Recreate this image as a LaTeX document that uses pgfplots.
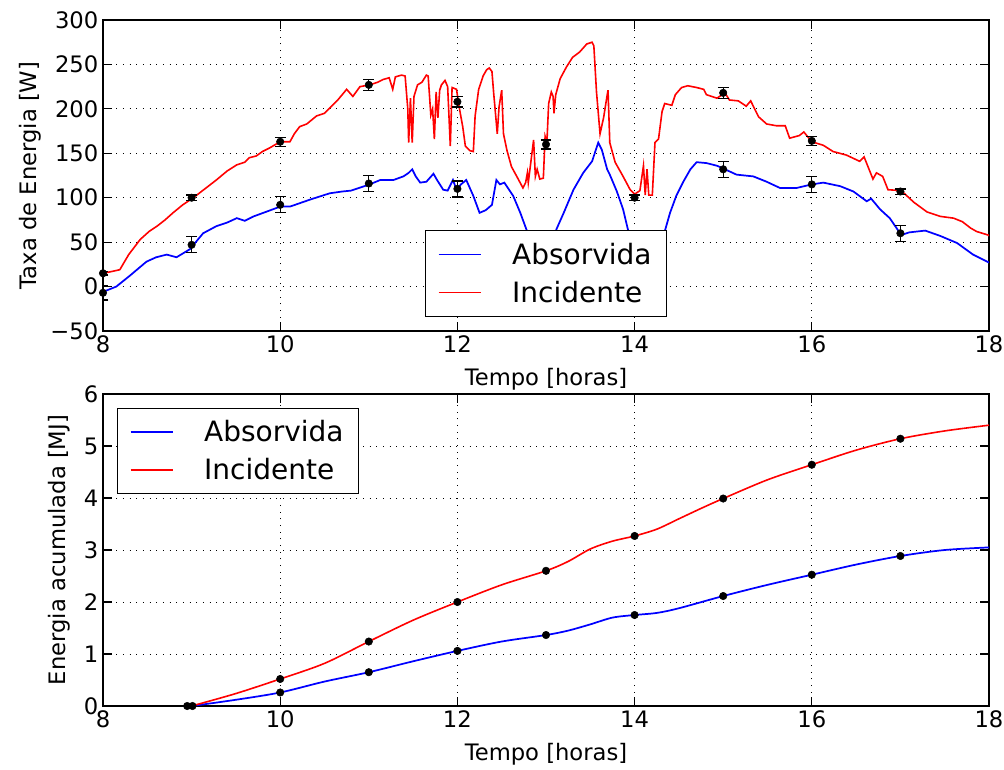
\documentclass[border=0pt]{standalone}
\usepackage{fontspec}
\setmainfont{DejaVu Sans}
\usepackage{pgfplots}
\pgfplotsset{compat=1.18}

\definecolor{mblue}{RGB}{0,0,255}
\definecolor{mred}{RGB}{255,0,0}

\pgfplotsset{
  mpl/.style={
    scale only axis,
    width=664.5pt,
    xmin=8, xmax=18,
    xtick={8,10,...,18},
    tick align=inside,
    xtick pos=both, ytick pos=both,
    major tick length=7pt,
    grid=major,
    major grid style={black, line width=0.6pt, dash pattern=on 0.8pt off 4.2pt},
    axis line style={line width=1.1pt},
    every tick/.style={black, line width=0.9pt},
    tick label style={font=\fontsize{17}{17}\selectfont},
    label style={font=\fontsize{17}{17}\selectfont},
    xlabel style={yshift=-5pt},
    /pgf/number format/assume math mode=true,
    xlabel={Tempo [horas]},
    legend cell align=left,
    legend image code/.code={\draw[#1] (0pt,0pt) -- (31.5pt,0pt);},
    legend style={font=\fontsize{21}{21}\selectfont, draw=black, line width=0.9pt,
      fill=white, inner xsep=9pt, inner ysep=7pt, row sep=7pt,
      /tikz/column sep=21pt},
  },
  errpt/.style={black, only marks, mark=*, mark size=2.8pt, forget plot,
    error bars/.cd, y dir=both, y explicit,
    error bar style={black, line width=1pt},
    error mark options={black, rotate=90, mark size=4pt, line width=1pt}},
  dotpt/.style={black, only marks, mark=*, mark size=2.8pt, forget plot},
}

\begin{document}
\begin{tikzpicture}
\useasboundingbox (-77.25pt,15pt) rectangle (675.75pt,-561.75pt);

\begin{axis}[mpl,
  at={(0,0)}, anchor=north west,
  height=233.25pt,
  ymin=-50, ymax=300,
  ytick={-50,0,...,300},
  yticklabels={−50,0,50,100,150,200,250,300},
  ylabel={Taxa de Energia [W]},
  legend style={at={(0.5,0.046)}, anchor=south},
]
\addplot[mblue, line width=1.3pt] coordinates {
(8.00,-6) (8.15,0) (8.30,12) (8.49,28) (8.60,33) (8.72,36) (8.83,33) (8.98,42)
(9.13,60) (9.28,68) (9.40,72) (9.51,77) (9.60,74) (9.70,79) (9.81,83) (10.00,90)
(10.11,90) (10.34,98) (10.56,105) (10.70,107) (10.80,108) (11.01,115) (11.13,120)
(11.28,120) (11.39,124) (11.45,128) (11.49,132) (11.53,124) (11.58,117) (11.65,118)
(11.73,127) (11.77,120) (11.84,109) (11.89,108) (11.95,120) (11.99,109) (12.04,115)
(12.10,120) (12.18,102) (12.25,83) (12.32,86) (12.39,92) (12.44,120) (12.48,115)
(12.53,117) (12.63,102) (12.71,83) (12.78,64) (12.85,45) (12.95,30) (13.05,45)
(13.12,65) (13.20,83) (13.31,109) (13.42,128) (13.52,141) (13.59,162) (13.63,154)
(13.69,132) (13.72,126) (13.80,107) (13.87,87) (13.93,62) (14.00,42) (14.10,30)
(14.25,45) (14.34,62) (14.40,83) (14.47,102) (14.55,118) (14.63,132) (14.70,140)
(14.81,139) (14.93,136) (15.02,132) (15.15,126) (15.34,124) (15.49,118) (15.64,111)
(15.83,111) (16.00,115) (16.13,117) (16.32,113) (16.47,107) (16.62,96) (16.67,99)
(16.77,87) (16.88,77) (17.01,58) (17.10,61) (17.28,63) (17.45,57) (17.64,49)
(17.82,36) (18.00,27)
};
\addlegendentry{Absorvida}
\addplot[mred, line width=1.2pt] coordinates {
(8.00,15) (8.10,17) (8.19,19) (8.29,36) (8.42,53) (8.52,62) (8.61,68) (8.70,75)
(8.79,83) (8.90,92) (9.02,100) (9.15,110) (9.28,120) (9.40,130) (9.51,137) (9.60,140)
(9.65,145) (9.73,147) (9.80,152) (9.88,156) (10.00,163) (10.11,163) (10.16,172)
(10.22,180) (10.30,183) (10.41,192) (10.50,195) (10.56,201) (10.65,210) (10.75,222)
(10.82,214) (10.90,225) (11.01,227) (11.10,230) (11.16,233) (11.23,235) (11.27,222)
(11.30,236) (11.37,238) (11.41,237) (11.44,200) (11.45,162) (11.47,212) (11.49,162)
(11.51,214) (11.55,227) (11.60,230) (11.65,238) (11.67,237) (11.70,193) (11.72,200)
(11.74,166) (11.76,219) (11.78,190) (11.80,221) (11.82,227) (11.86,232) (11.89,225)
(11.92,158) (11.94,224) (11.99,222) (12.02,202) (12.06,180) (12.09,158) (12.14,153)
(12.18,152) (12.20,192) (12.24,222) (12.29,237) (12.33,244) (12.36,246) (12.39,242)
(12.41,217) (12.42,206) (12.45,172) (12.47,202) (12.50,221) (12.52,172) (12.56,153)
(12.61,135) (12.67,124) (12.74,111) (12.77,117) (12.79,128) (12.80,117) (12.86,165)
(12.88,124) (12.90,132) (12.93,121) (12.97,122) (12.99,169) (13.01,162) (13.03,206)
(13.06,219) (13.08,214) (13.09,195) (13.11,216) (13.16,234) (13.23,247) (13.30,258)
(13.38,264) (13.46,273) (13.52,275) (13.54,271) (13.57,219) (13.61,172) (13.65,190)
(13.68,209) (13.70,221) (13.72,162) (13.78,140) (13.87,124) (13.95,109) (14.00,104)
(14.06,108) (14.10,136) (14.12,103) (14.14,132) (14.16,103) (14.20,103) (14.23,162)
(14.27,166) (14.31,197) (14.34,206) (14.42,204) (14.46,216) (14.53,224) (14.60,226)
(14.70,224) (14.78,222) (14.81,216) (14.93,212) (15.02,218) (15.07,210) (15.17,209)
(15.26,203) (15.31,209) (15.40,191) (15.49,183) (15.60,181) (15.70,181) (15.75,167)
(15.86,170) (15.91,174) (16.00,163) (16.13,159) (16.24,152) (16.39,148) (16.54,141)
(16.59,146) (16.69,121) (16.73,128) (16.80,124) (16.86,109) (17.01,108) (17.15,95)
(17.30,84) (17.45,79) (17.60,77) (17.70,73) (17.79,66) (17.86,62) (17.99,58) (18.00,57)
};
\addlegendentry{Incidente}
\addplot[errpt] table[x=t, y=v, y error=e] {
t v e
8 15 2
9 100 3
10 163 5
11 227 6
12 208 6
13 160 5
14 100 3
15 218 6
16 164 5
17 107 3
};
\addplot[errpt] table[x=t, y=v, y error=e] {
t v e
8 -7 8
9 47 9
10 92 9
11 116 9
12 110 9
13 40 9
14 30 9
15 132 9
16 115 9
17 60 9
};
\end{axis}

\begin{axis}[mpl,
  at={(0,-280.5pt)}, anchor=north west,
  height=234pt,
  ymin=0, ymax=6,
  ytick={0,1,...,6},
  ylabel={Energia acumulada [MJ]},
  ylabel style={yshift=3pt},
  legend style={at={(0.016,0.955)}, anchor=north west},
]
\addplot[mblue, line width=1.3pt, smooth] coordinates {
(9.0,0) (9.5,0.12) (10,0.26) (10.5,0.47) (11,0.65) (11.5,0.86) (12,1.06)
(12.5,1.24) (13,1.365) (13.25,1.45) (13.5,1.57) (13.75,1.70) (14,1.75)
(14.25,1.79) (14.5,1.88) (15,2.115) (15.5,2.33) (16,2.525) (16.5,2.72)
(17,2.885) (17.5,3.00) (18,3.05)
};
\addlegendentry{Absorvida}
\addplot[mred, line width=1.2pt, smooth] coordinates {
(9.0,0) (9.5,0.24) (10,0.52) (10.5,0.82) (11,1.24) (11.5,1.65) (12,2.0)
(12.5,2.33) (13,2.60) (13.25,2.78) (13.5,3.02) (13.75,3.17) (14,3.27)
(14.25,3.40) (14.5,3.60) (14.75,3.80) (15,3.99) (15.5,4.35) (16,4.64)
(16.5,4.92) (17,5.14) (17.5,5.29) (18,5.40)
};
\addlegendentry{Incidente}
\addplot[dotpt] coordinates {
(8.95,0) (10,0.26) (11,0.65) (12,1.06) (13,1.365) (14,1.75) (15,2.115) (16,2.525) (17,2.885)
};
\addplot[dotpt] coordinates {
(9.01,0) (10,0.52) (11,1.24) (12,2.0) (13,2.60) (14,3.27) (15,3.99) (16,4.64) (17,5.14)
};
\end{axis}
\end{tikzpicture}
\end{document}
